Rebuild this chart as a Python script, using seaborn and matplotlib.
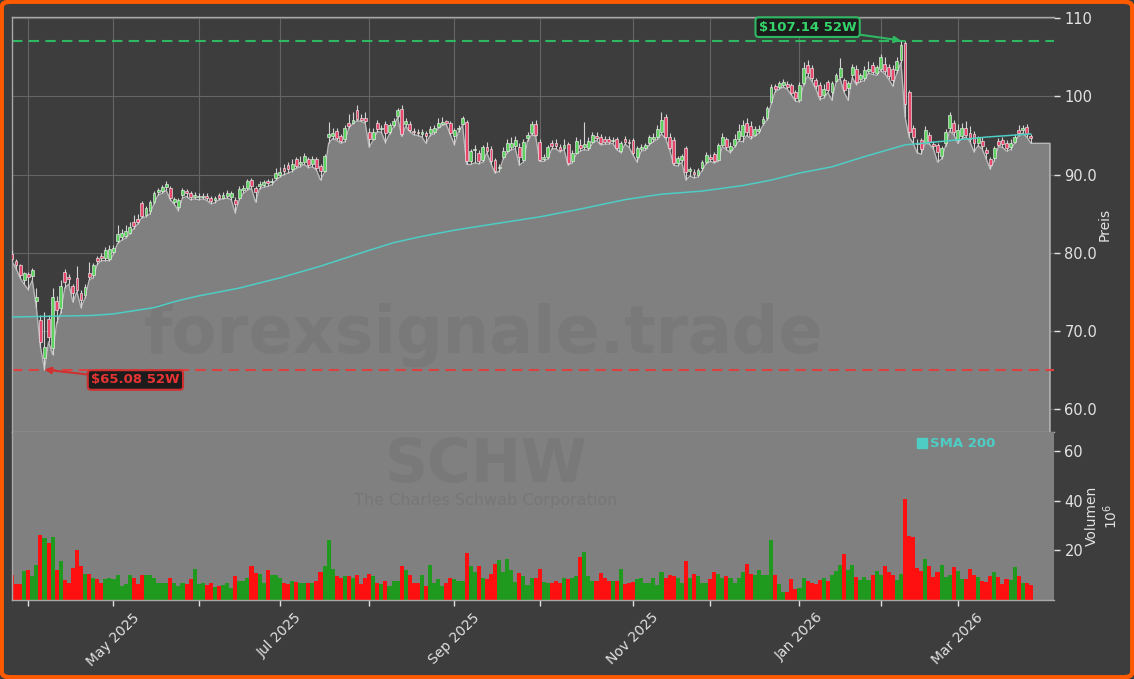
import numpy as np
import pandas as pd
import matplotlib
matplotlib.use("Agg")
import matplotlib.pyplot as plt
import seaborn as sns
from matplotlib.patches import FancyBboxPatch
from matplotlib.lines import Line2D

# ---------------- data ----------------
holidays = ["2025-04-18", "2025-05-26", "2025-06-19", "2025-07-04", "2025-09-01",
            "2025-11-27", "2025-12-25", "2026-01-01", "2026-01-19", "2026-02-16"]
dates = pd.bdate_range("2025-03-26", "2026-03-26")
dates = dates[~dates.isin(pd.to_datetime(holidays))]

opens = [
    79.9, 78.9, 78.4, 76.5, 77.3, 77.0, 73.8, 71.4, 66.5, 71.5,
    67.8, 73.8, 73.0, 77.5, 76.9, 75.7, 76.8, 74.9, 74.6, 77.4,
    77.2, 79.3, 79.6, 79.3, 79.2, 80.1, 81.5, 82.0, 82.2, 82.6,
    84.0, 84.3, 86.4, 84.8, 85.3, 86.5, 87.8, 87.9, 88.4, 88.3,
    86.5, 85.8, 87.4, 87.9, 87.6, 87.1, 87.1, 87.1, 87.3, 87.0,
    86.7, 87.4, 87.0, 87.3, 87.1, 86.8, 87.0, 88.0, 88.3, 89.3,
    88.3, 88.5, 88.7, 89.2, 89.0, 89.6, 90.0, 90.9, 91.2, 90.7,
    92.0, 91.4, 91.6, 92.0, 91.3, 92.0, 91.1, 90.5, 94.8, 95.0,
    95.6, 94.9, 94.5, 96.6, 96.6, 98.2, 97.2, 97.2, 95.4, 94.6,
    96.6, 95.8, 96.5, 95.4, 96.3, 97.5, 98.4, 96.5, 96.5, 95.6,
    95.5, 95.2, 95.3, 95.3, 95.5, 96.1, 96.5, 96.8, 96.6, 94.9,
    95.8, 96.5, 96.7, 91.7, 93.1, 92.8, 91.9, 93.5, 93.3, 91.9,
    90.8, 92.3, 93.0, 93.5, 93.6, 93.5, 91.9, 94.7, 95.3, 96.5,
    94.2, 92.0, 92.2, 94.0, 94.1, 93.5, 93.4, 93.9, 91.7, 92.8,
    93.8, 93.5, 93.4, 94.2, 95.0, 94.8, 94.5, 94.6, 94.3, 94.5,
    93.0, 94.5, 94.2, 94.4, 92.2, 93.3, 93.4, 94.0, 94.6, 94.8,
    95.4, 97.4, 94.8, 94.4, 91.5, 91.9, 93.4, 90.5, 90.3, 90.0,
    90.8, 91.6, 92.3, 92.6, 91.9, 93.8, 94.5, 93.2, 93.8, 94.5,
    95.0, 96.6, 96.2, 95.1, 95.6, 96.6, 97.2, 99.3, 101.3, 101.2,
    101.4, 101.6, 101.4, 100.5, 99.5, 101.7, 104.0, 103.6, 102.1, 101.4,
    100.2, 101.8, 100.5, 102.0, 102.5, 102.1, 101.1, 102.7, 103.5, 102.2,
    102.3, 103.3, 104.0, 103.0, 103.5, 104.2, 103.7, 103.5, 103.4, 104.6,
    106.8, 100.5, 96.0, 94.1, 94.4, 94.2, 95.1, 93.9, 93.8, 92.4,
    94.0, 95.9, 96.6, 94.4, 95.0, 95.9, 95.3, 95.2, 94.0, 94.3,
    93.1, 92.0, 92.1, 94.3, 94.4, 94.0, 93.5, 94.2, 95.7, 95.7,
    96.1, 94.9,
]
highs = [
    80.4, 79.2, 78.6, 77.6, 77.6, 78.1, 75.5, 72.0, 72.5, 72.0,
    75.5, 74.5, 76.5, 78.0, 77.3, 76.0, 78.3, 75.3, 76.0, 78.8,
    78.7, 79.6, 80.0, 80.7, 81.0, 81.0, 83.5, 83.0, 83.5, 84.0,
    84.8, 85.0, 86.6, 86.0, 86.8, 87.9, 88.3, 88.7, 89.2, 88.5,
    87.2, 87.0, 88.3, 88.2, 87.9, 87.8, 87.6, 87.7, 87.6, 87.3,
    87.3, 87.7, 87.8, 88.0, 87.9, 87.2, 88.5, 88.7, 89.5, 89.6,
    88.6, 89.2, 89.3, 89.5, 89.6, 90.8, 91.0, 91.3, 91.6, 92.0,
    92.3, 92.4, 92.8, 92.3, 92.4, 92.2, 91.4, 92.7, 96.7, 95.9,
    96.0, 95.2, 96.3, 97.8, 98.0, 98.9, 97.8, 98.0, 96.0, 95.9,
    97.0, 96.3, 96.8, 96.6, 97.2, 98.5, 98.9, 97.3, 96.8, 95.9,
    95.8, 95.8, 95.6, 96.2, 96.4, 97.3, 97.4, 97.0, 96.9, 96.0,
    96.4, 97.5, 97.0, 93.3, 93.8, 93.2, 93.8, 94.2, 93.6, 92.1,
    91.4, 93.5, 94.6, 94.8, 95.0, 94.0, 94.5, 95.5, 96.9, 97.0,
    94.5, 92.6, 93.8, 94.4, 94.5, 93.9, 94.5, 94.2, 93.2, 94.8,
    94.5, 96.7, 94.8, 95.5, 95.4, 95.2, 94.9, 95.0, 94.8, 94.8,
    94.3, 94.9, 94.6, 94.7, 93.7, 93.9, 94.1, 95.1, 95.3, 96.3,
    98.0, 97.8, 95.3, 94.8, 92.4, 92.7, 93.7, 91.0, 90.7, 90.9,
    91.9, 92.9, 92.6, 92.9, 94.1, 95.3, 94.8, 94.2, 95.2, 96.5,
    97.0, 97.2, 96.8, 96.2, 96.3, 97.5, 98.8, 101.6, 101.6, 102.0,
    102.2, 102.0, 101.7, 100.8, 101.8, 104.4, 104.6, 104.0, 102.4, 101.8,
    101.6, 102.1, 102.0, 103.0, 104.9, 102.4, 102.0, 104.2, 104.0, 103.0,
    103.9, 104.5, 104.4, 104.0, 105.4, 105.0, 104.2, 104.0, 105.0, 107.14,
    107.1, 100.8, 96.3, 94.5, 94.7, 96.2, 95.4, 94.3, 94.1, 93.7,
    95.8, 98.0, 97.0, 96.5, 96.6, 96.8, 96.2, 95.6, 95.0, 94.8,
    93.5, 92.2, 93.7, 94.7, 94.8, 94.4, 94.5, 95.2, 96.3, 96.3,
    96.5, 95.2,
]
lows = [
    78.9, 78.0, 76.8, 76.0, 75.3, 76.5, 73.0, 68.0, 65.08, 68.6,
    67.0, 71.0, 72.3, 75.5, 76.0, 73.7, 75.0, 73.0, 74.2, 76.5,
    76.8, 78.5, 79.0, 79.0, 79.0, 79.8, 81.2, 81.6, 81.9, 82.4,
    83.1, 83.7, 84.5, 84.6, 85.0, 86.3, 87.4, 87.6, 88.0, 86.8,
    86.2, 85.4, 87.0, 87.2, 86.8, 86.9, 86.8, 86.9, 86.7, 86.3,
    86.4, 86.8, 86.9, 87.0, 86.8, 85.1, 86.8, 87.6, 88.0, 88.2,
    86.5, 88.2, 88.4, 88.5, 88.7, 89.3, 89.7, 90.0, 90.2, 90.4,
    90.8, 91.0, 91.3, 90.9, 91.0, 90.6, 89.3, 90.3, 94.0, 94.6,
    94.4, 94.0, 94.2, 96.0, 96.5, 96.9, 96.8, 96.6, 93.5, 94.4,
    95.5, 95.4, 94.1, 95.2, 96.1, 97.3, 94.9, 96.2, 95.5, 95.1,
    95.0, 94.8, 94.0, 95.0, 95.2, 95.9, 96.3, 96.4, 95.1, 93.8,
    95.5, 96.3, 91.3, 91.3, 91.5, 91.4, 91.6, 92.8, 91.4, 90.2,
    90.4, 92.0, 92.8, 93.2, 93.3, 91.2, 91.6, 94.3, 95.1, 94.9,
    91.7, 91.7, 92.0, 93.3, 93.3, 92.9, 93.2, 91.2, 91.5, 92.6,
    93.0, 93.2, 93.1, 94.0, 94.4, 93.8, 93.9, 93.9, 94.0, 93.2,
    92.8, 93.9, 93.5, 92.5, 91.6, 93.0, 93.1, 93.8, 94.2, 94.5,
    95.2, 94.6, 93.2, 91.2, 91.1, 91.6, 89.3, 89.8, 89.6, 89.7,
    90.5, 91.4, 91.7, 91.5, 91.7, 93.6, 93.2, 92.8, 93.5, 94.3,
    94.2, 95.0, 94.6, 94.9, 95.3, 96.3, 97.0, 99.0, 100.6, 100.9,
    101.2, 100.9, 100.2, 99.4, 99.3, 101.5, 102.6, 102.0, 101.0, 99.6,
    99.8, 100.5, 99.5, 101.8, 102.3, 100.5, 99.5, 102.4, 101.5, 101.9,
    102.0, 103.0, 102.8, 102.7, 103.3, 102.9, 102.2, 101.3, 103.0, 104.3,
    97.4, 94.8, 94.0, 92.8, 92.6, 94.0, 93.9, 93.3, 91.6, 92.0,
    93.7, 95.6, 95.1, 94.0, 94.6, 94.8, 94.2, 92.9, 93.7, 93.3,
    92.0, 90.7, 91.8, 93.6, 93.5, 93.0, 93.2, 94.0, 95.0, 95.3,
    94.8, 94.0,
]
closes = [
    79.2, 78.5, 77.2, 77.4, 76.9, 77.8, 74.3, 68.6, 68.0, 69.2,
    74.3, 72.7, 75.8, 76.3, 76.6, 74.9, 75.3, 74.0, 75.6, 76.9,
    78.4, 79.0, 79.4, 80.4, 80.5, 80.6, 82.4, 82.5, 82.8, 83.3,
    83.4, 84.0, 84.7, 85.7, 86.5, 87.6, 88.0, 88.4, 88.8, 87.0,
    86.9, 86.8, 88.0, 87.6, 87.1, 87.4, 87.3, 87.3, 87.0, 86.6,
    87.0, 87.0, 87.4, 87.6, 87.6, 86.2, 88.2, 88.3, 89.2, 88.5,
    87.8, 88.8, 89.0, 88.9, 89.2, 90.2, 90.4, 90.5, 90.7, 91.4,
    91.1, 91.6, 92.4, 91.2, 92.0, 90.9, 90.5, 92.4, 95.2, 95.3,
    94.7, 94.3, 96.0, 96.2, 97.0, 97.1, 97.0, 96.9, 94.5, 95.5,
    95.8, 95.9, 95.3, 96.3, 96.9, 98.2, 95.2, 96.9, 95.7, 95.4,
    95.3, 95.4, 95.0, 95.8, 95.9, 96.6, 96.7, 96.6, 95.3, 95.7,
    96.0, 97.2, 91.7, 93.0, 93.3, 91.7, 93.5, 93.0, 91.7, 90.5,
    91.0, 93.0, 94.0, 94.0, 94.4, 92.2, 94.2, 95.1, 96.5, 95.1,
    91.9, 92.2, 93.5, 93.6, 93.6, 93.2, 93.8, 91.5, 92.8, 94.3,
    93.4, 93.9, 94.3, 95.1, 94.7, 94.0, 94.2, 94.2, 94.4, 93.4,
    94.0, 94.2, 94.0, 92.8, 93.4, 93.5, 93.8, 94.8, 94.8, 95.8,
    97.0, 94.8, 93.4, 91.5, 92.1, 92.4, 90.3, 90.7, 90.1, 90.6,
    91.6, 92.5, 92.0, 91.7, 93.8, 94.8, 93.5, 93.6, 94.6, 95.6,
    96.3, 95.4, 95.0, 95.8, 95.8, 97.1, 98.5, 101.2, 101.0, 101.7,
    101.8, 101.2, 100.4, 99.8, 101.4, 103.6, 103.0, 102.3, 101.3, 100.0,
    101.0, 100.8, 101.7, 102.7, 103.6, 100.8, 101.7, 103.7, 101.8, 102.7,
    103.4, 103.5, 103.1, 103.7, 105.0, 103.2, 102.6, 102.1, 104.5, 106.6,
    99.0, 95.4, 94.8, 93.9, 93.3, 95.7, 94.2, 93.7, 92.9, 93.4,
    95.4, 97.6, 95.4, 95.7, 95.9, 95.1, 94.5, 94.1, 94.8, 93.6,
    92.8, 91.2, 93.4, 93.8, 93.9, 93.4, 94.1, 94.8, 95.3, 95.9,
    95.2, 94.7,
]
volumes = [  # millions of shares
    10, 6.5, 6.5, 11.5, 12, 9.5, 14, 26, 25, 23,
    25.5, 12, 15.5, 8, 7, 13, 20, 13.5, 10.5, 10.5,
    8.8, 8.3, 7, 8.3, 8.8, 8.3, 10, 5.8, 6.5, 10,
    9, 6.5, 10, 10, 10, 9, 7, 7, 7, 9,
    7, 5.8, 7, 6.5, 8.3, 12.5, 6.5, 6.8, 6, 6.8,
    5.2, 5.5, 6, 7, 4.8, 9.5, 7.8, 7.5, 8.8, 13.5,
    10.8, 10.5, 7, 12, 10, 10, 8.8, 6.8, 6.5, 7.8,
    7.3, 6.8, 7, 7, 6.8, 7.8, 11.3, 13.5, 24, 12.5,
    9.5, 9, 9.5, 9.5, 8.8, 10, 6.5, 8.8, 10.5, 9.5,
    6.8, 6.5, 7.8, 5.5, 7.8, 7.8, 13.5, 12, 10, 7,
    7, 10, 5.5, 14, 6.8, 8.3, 5.5, 7, 9, 8.3,
    7.8, 7.8, 19, 13.5, 11.3, 13.5, 9, 8.3, 10.5, 14.5,
    16, 11.3, 16.5, 12, 7.3, 10.8, 9.5, 6, 8.8, 9,
    12.5, 7.3, 7, 6.8, 7.8, 6.8, 9, 8.3, 9, 9.5,
    17.5, 19.5, 9.5, 7.8, 7.8, 10.8, 9, 7.8, 7.8, 7.8,
    12.5, 6.5, 6.8, 7.3, 8.3, 8.8, 6.8, 7, 9, 6,
    11.3, 8.8, 10, 9.5, 9, 6.8, 15.5, 8.8, 10.5, 9.5,
    7, 7, 8.3, 11.3, 10.5, 8.8, 9.5, 8.8, 7, 9,
    11.3, 14.5, 10.5, 10, 12, 10, 10, 24, 10, 6.5,
    3.3, 3.3, 8.3, 4.3, 4.8, 8.8, 7.5, 7, 6.5, 8,
    9, 7.5, 10, 11.5, 14, 18.5, 12, 14, 9.1, 8,
    9.1, 8, 10, 11.8, 10, 13.8, 11.1, 10, 8, 10.6,
    40.5, 25.8, 25.4, 13, 11.8, 16.4, 13.8, 9.1, 11.4, 14,
    9.1, 10, 13.3, 11.5, 8.6, 8.6, 12.4, 10, 9.1, 7.7,
    7.2, 9.5, 11.4, 9.1, 6.4, 8.6, 8, 13.3, 9.5, 6.8,
    6.8, 6.1,
]
sma_idx = [0, 10, 20, 25, 35, 41, 46, 56, 66, 76, 86, 94, 100, 109, 120, 130,
           140, 151, 160, 170, 180, 187, 194, 202, 210, 220, 230, 240, 251]
sma_val = [71.8, 71.9, 72.0, 72.2, 73.0, 73.9, 74.5, 75.5, 76.8, 78.3, 80.0, 81.3,
           82.0, 82.9, 83.8, 84.6, 85.6, 86.8, 87.5, 87.9, 88.6, 89.3, 90.2, 91.0,
           92.3, 93.8, 94.3, 94.8, 95.2]
ticker = "SCHW"
company = "The Charles Schwab Corporation"
price_ticks = [60, 70, 80, 90, 100, 110]
price_tick_labels = ["60.0", "70.0", "80.0", "90.0", "100", "110"]
vol_ticks = [20, 40, 60]

# ---------------- style ----------------
BG = "#3d3d3d"
FILL = "#808080"
TXT = "#e2e2e2"
UP_C, DN_C = "#5fd35f", "#e9476c"
VUP, VDN = "#1f9a1f", "#ff1010"
SMA_C = "#4ecdc4"

sns.set_theme(style="dark", rc={"figure.facecolor": BG, "axes.facecolor": BG})
plt.rcParams["font.family"] = ["DejaVu Sans"]

n = len(closes)
x = np.arange(n)
o = np.array(opens); h = np.array(highs); l = np.array(lows); c = np.array(closes)
up = c >= o

fig = plt.figure(figsize=(11.34, 6.79), dpi=100)
fig.patch.set_facecolor(BG)
L, R = 12 / 1134, 1054 / 1134
ax = fig.add_axes([L, 1 - 432 / 679, R - L, (432 - 17) / 679])
axv = fig.add_axes([L, 1 - 600 / 679, R - L, (600 - 432) / 679], sharex=ax)

XMAX = 256.7
YMIN, YMAX = 57.1, 110.15
FILL_END = 255.7

# month ticks
month_first = [i for i in range(n) if i == 0 or dates[i].month != dates[i - 1].month][1:]
month_lbls = [dates[i].strftime("%b %Y") if dates[i].month % 2 == 1 else "" for i in month_first]

# ---- price panel ----
ax.set_facecolor(BG)
ax.set_xlim(0, XMAX)
ax.set_ylim(YMIN, YMAX)
ax.set_xticks(month_first)
ax.grid(True, color="#646464", lw=0.8, zorder=0)
ax.set_axisbelow(True)

fx = np.append(x, FILL_END)
fy = np.append(l, l[-1])
ax.fill_between(fx, fy, YMIN, color=FILL, lw=0, zorder=1)
ax.plot(np.append(fx, FILL_END), np.append(fy, YMIN), color="#b8b8b8", lw=1.0, zorder=1.5)

ax.text(0.453, 0.235, "forexsignale.trade", transform=ax.transAxes, ha="center",
        va="center", fontsize=47, fontweight="bold", color="black", alpha=0.05, zorder=1.6)

ax.vlines(x, l, h, color="#d2d2d2", lw=0.8, zorder=3)
body_h = np.maximum(np.abs(c - o), 0.12)
ax.bar(x, body_h, bottom=np.minimum(o, c), width=0.7,
       color=np.where(up, UP_C, DN_C), edgecolor="#eeeeee", linewidth=0.45, zorder=4)

sns.lineplot(x=sma_idx, y=sma_val, ax=ax, color=SMA_C, lw=1.1, zorder=5)

hi_i, lo_i = int(np.argmax(h)), int(np.argmin(l))
hi, lo = h[hi_i], l[lo_i]
ax.axhline(hi, color="#2fb862", lw=1.5, ls=(0, (5, 3)), zorder=2.5)
ax.axhline(lo, color="#dd4040", lw=1.5, ls=(0, (5, 3)), zorder=2.5)
ax.annotate(f"${hi:.2f} 52W", xy=(hi_i, hi), xytext=(196, 108.85), ha="center", va="center",
            color="#35d36b", fontsize=9.5, fontweight="bold",
            bbox=dict(boxstyle="round,pad=0.25", fc="#1c1c1c", ec="#2fb862", lw=1.5),
            arrowprops=dict(arrowstyle="-|>", color="#2fb862", lw=1.5, shrinkA=0, shrinkB=0),
            zorder=8)
ax.annotate(f"${lo:.2f} 52W", xy=(lo_i, lo), xytext=(30.4, 63.75), ha="center", va="center",
            color="#e63434", fontsize=9.5, fontweight="bold",
            bbox=dict(boxstyle="round,pad=0.25", fc="#1c1c1c", ec="#d03030", lw=1.5),
            arrowprops=dict(arrowstyle="-|>", color="#d03030", lw=1.5, shrinkA=0, shrinkB=0),
            zorder=8)

ax.yaxis.tick_right()
ax.yaxis.set_label_position("right")
ax.set_yticks(price_ticks)
ax.set_yticklabels(price_tick_labels)
ax.set_ylabel("Preis", color=TXT, fontsize=10, labelpad=0)
ax.tick_params(axis="y", colors=TXT, labelsize=10.5, length=4, width=1, direction="out",
               left=False, right=True)
ax.tick_params(axis="x", labelbottom=False, bottom=True, length=3, color="#dddddd")
for s in ax.spines.values():
    s.set_color("#a8a8a8"); s.set_linewidth(1.0); s.set_visible(True)
ax.spines["right"].set_visible(False)

# ---- volume panel ----
axv.set_facecolor(FILL)
axv.bar(x, volumes, width=1.0, color=np.where(up, VUP, VDN), lw=0, zorder=2)
axv.set_ylim(0, 67.6)
axv.set_xlim(0, XMAX)
axv.grid(False)
axv.text(0.455, 0.80, ticker, transform=axv.transAxes, ha="center", va="center",
         fontsize=43, fontweight="bold", color="black", alpha=0.05, zorder=1)
axv.text(0.455, 0.59, company, transform=axv.transAxes, ha="center", va="center",
         fontsize=11.5, color="black", alpha=0.07, zorder=1)
axv.yaxis.tick_right()
axv.yaxis.set_label_position("right")
axv.set_yticks(vol_ticks)
axv.set_ylabel("Volumen\n$10^6$", color=TXT, fontsize=10, labelpad=1)
axv.tick_params(axis="y", colors=TXT, labelsize=10.5, length=4, width=1, direction="out",
                left=False, right=True)
axv.set_xticks(month_first)
axv.set_xticklabels(month_lbls)
axv.tick_params(axis="x", colors=TXT, labelsize=10, length=4, width=1, direction="out",
                bottom=True)
plt.setp(axv.get_xticklabels(), rotation=45, ha="center")
for s in axv.spines.values():
    s.set_color("#a8a8a8"); s.set_linewidth(1.0)
axv.spines["right"].set_visible(False)
axv.spines["top"].set_visible(False)

leg = axv.legend(handles=[Line2D([], [], marker="s", ls="", color=SMA_C, markersize=7)],
                 labels=["SMA 200"], loc="center left", bbox_to_anchor=(0.862, 0.93),
                 frameon=False, handletextpad=0.1, borderaxespad=0, handlelength=1.0,
                 prop={"weight": "bold", "size": 9.5})
for t in leg.get_texts():
    t.set_color(SMA_C)

# orange frame
fig.patches.append(FancyBboxPatch((0.0015, 0.0025), 0.997, 0.995, transform=fig.transFigure,
                                  boxstyle="round,pad=0,rounding_size=0.008",
                                  fc="none", ec="#ff5a00", lw=3.2, zorder=10))

fig.savefig("out.png", dpi=100, facecolor=BG)
